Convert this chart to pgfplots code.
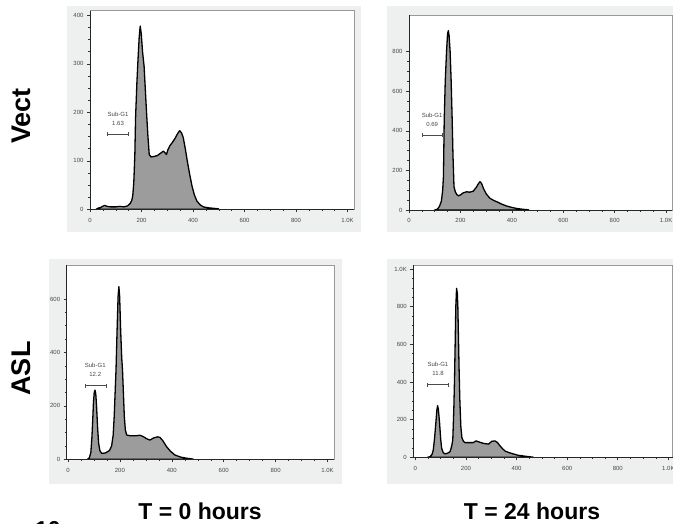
\documentclass[border=0pt]{standalone}
\usepackage{fontspec}
\setmainfont{Liberation Sans}
\usepackage{pgfplots}
\pgfplotsset{compat=1.18}
\definecolor{panelbg}{HTML}{EEEFEF}
\definecolor{histfill}{HTML}{9C9C9C}
\definecolor{ticklbl}{HTML}{484848}

\pgfplotsset{
  flowjo/.style={
    scale only axis,
    anchor=south west,
    clip mode=individual,
    axis line style={draw=black!40, line width=0.5pt},
    axis background/.style={fill=white},
    tick pos=left,
    tick align=outside,
    minor tick num=3,
    major tick length=3pt,
    minor tick length=1.8pt,
    every tick/.style={draw=black!80, line width=0.6pt},
    every minor tick/.style={line width=0.45pt},
    tick label style={font=\fontsize{6}{7}\selectfont, text=ticklbl},
    xticklabel style={yshift=-2pt},
    xtick={0,200,400,600,800,1000},
    xticklabels={0,200,400,600,800,1.0K},
    ymin=0,
  },
  hist/.style={draw=black, line width=1.3pt, fill=histfill, line join=round},
}
% dark left and bottom axis lines
\newcommand{\darkaxes}{\draw[black!85, line width=0.8pt] (rel axis cs:0,1) -- (rel axis cs:0,0) -- (rel axis cs:1,0);}
% gate bracket: x1, x2, y, middle, value
\newcommand{\gate}[5]{%
  \draw[black!70, line width=0.7pt] (axis cs:#1,#3) -- (axis cs:#2,#3);
  \draw[black!70, line width=0.7pt] ([yshift=-2pt]axis cs:#1,#3) -- ([yshift=2pt]axis cs:#1,#3);
  \draw[black!70, line width=0.7pt] ([yshift=-2pt]axis cs:#2,#3) -- ([yshift=2pt]axis cs:#2,#3);
  \node[font=\fontsize{6}{7}\selectfont, text=ticklbl, inner sep=0pt] at ([yshift=20pt]axis cs:#4,#3) {Sub-G1};
  \node[font=\fontsize{6}{7}\selectfont, text=ticklbl, inner sep=0pt] at ([yshift=11pt]axis cs:#4,#3) {#5};
}

\begin{document}
\begin{tikzpicture}
\useasboundingbox (0pt,0pt) rectangle (673pt,-524pt);
\fill[panelbg] (67pt,-6pt) rectangle (361pt,-232pt);
\fill[panelbg] (387pt,-6pt) rectangle (673pt,-232pt);
\fill[panelbg] (49pt,-259pt) rectangle (342pt,-484pt);
\fill[panelbg] (387pt,-259pt) rectangle (673pt,-484pt);

% Vect, T = 0
\begin{axis}[flowjo, at={(90pt,-209.3pt)}, width=264pt, height=198.6pt,
  xmin=0, xmax=1025, ymax=409.5,
  ytick={0,100,200,300,400}, yticklabels={0,100,200,300,400}]
\addplot[hist] coordinates {
(24,0) (30,2) (42,4) (52,7) (58,8) (66,6) (80,5) (100,5) (116,6) (132,5) (146,7)
(156,12) (162,18) (166,28) (170,55) (174,110) (177,190) (182,260) (186,305)
(191,355) (195,378) (199,362) (204,325) (210,295) (215,245) (220,195) (225,150)
(230,113) (237,108) (250,109) (262,111) (275,116) (285,120) (292,116) (297,113)
(302,122) (310,131) (320,138) (330,146) (340,156) (348,162) (355,158) (362,148)
(370,125) (377,102) (386,75) (396,48) (405,30) (415,17) (428,9) (440,5) (460,3)
(480,2) (498,1) (500,0)
} \closedcycle;
\darkaxes
\gate{69}{149}{155}{109}{1.63}
\end{axis}

% Vect, T = 24
\begin{axis}[flowjo, at={(409pt,-210pt)}, width=263pt, height=195pt,
  xmin=0, xmax=1023, ymax=985,
  ytick={0,200,400,600,800}, yticklabels={0,200,400,600,800}]
\addplot[hist] coordinates {
(100,0) (110,4) (118,17) (126,45) (131,100) (134,168) (137,455) (141,650)
(146,800) (150,890) (153,906) (156,880) (160,800) (164,650) (168,455) (171,280)
(175,118) (180,92) (186,78) (192,72) (200,76) (210,86) (224,92) (236,90)
(250,95) (262,115) (270,133) (276,143) (282,135) (290,108) (300,82) (315,59)
(330,48) (341,42) (360,30) (380,20) (400,13) (418,8) (440,4) (464,1) (466,0)
} \closedcycle;
\darkaxes
\gate{52}{128}{378}{90}{0.69}
\end{axis}

% ASL, T = 0
\begin{axis}[flowjo, at={(66.7pt,-459.3pt)}, width=267.6pt, height=194.3pt,
  xmin=-5, xmax=1026, ymax=727,
  ytick={0,200,400,600}, yticklabels={0,200,400,600}]
\addplot[hist] coordinates {
(75,0) (82,5) (88,25) (92,80) (95,140) (98,210) (101,250) (104,259) (107,245)
(110,200) (114,120) (118,60) (123,32) (130,22) (145,24) (160,33) (168,50)
(174,90) (178,160) (182,260) (185,334) (189,480) (193,610) (196,646) (199,610)
(203,480) (207,380) (210,334) (213,260) (217,160) (221,110) (226,91) (240,88)
(260,88) (277,90) (290,85) (303,77) (316,72) (330,80) (345,84) (354,82)
(365,70) (380,47) (395,30) (412,16) (435,8) (457,4) (480,1) (483,0)
} \closedcycle;
\darkaxes
\gate{65}{146}{275}{105}{12.2}
\end{axis}

% ASL, T = 24
\begin{axis}[flowjo, at={(413.3pt,-457.3pt)}, width=259.4pt, height=192.3pt,
  xmin=-8, xmax=1017, ymax=1021,
  ytick={0,200,400,600,800,1000}, yticklabels={0,200,400,600,800,1.0K}]
\addplot[hist] coordinates {
(48,0) (58,3) (66,15) (71,39) (76,100) (81,180) (85,250) (88,274) (91,255)
(96,180) (100,100) (104,48) (110,25) (117,18) (128,22) (137,30) (143,55)
(148,92) (152,250) (155,420) (158,650) (160,800) (163,897) (166,870) (168,800)
(171,600) (173,465) (176,300) (180,160) (184,105) (190,85) (196,78) (215,78)
(229,78) (240,87) (255,80) (269,74) (289,70) (302,85) (315,87) (325,78)
(332,65) (345,45) (355,33) (370,25) (387,18) (405,11) (427,7) (450,3)
(464,1) (467,0)
} \closedcycle;
\darkaxes
\gate{49}{130}{385}{89.5}{11.8}
\end{axis}

% row and column labels
\node[rotate=90, font=\fontsize{27}{30}\selectfont\bfseries] at (21pt,-116pt) {Vect};
\node[rotate=90, font=\fontsize{27}{30}\selectfont\bfseries] at (21pt,-368.5pt) {ASL};
\node[font=\fontsize{23}{26}\selectfont\bfseries] at (200pt,-511pt) {T = 0 hours};
\node[font=\fontsize{23}{26}\selectfont\bfseries] at (532pt,-511pt) {T = 24 hours};
\node[font=\fontsize{23}{26}\selectfont\bfseries, anchor=north west, inner sep=0pt] at (35pt,-521.5pt) {10};
\end{tikzpicture}
\end{document}
